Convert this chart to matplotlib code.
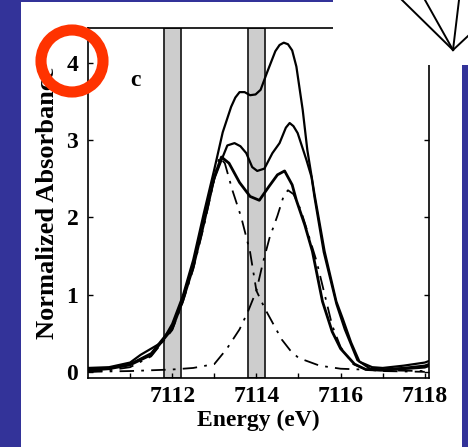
import matplotlib
matplotlib.use("Agg")
import matplotlib.pyplot as plt
from matplotlib.patches import Rectangle, Ellipse
from matplotlib.lines import Line2D

# top solid curve
e1 = [7110.0, 7110.5, 7111.0, 7111.25, 7111.5, 7111.75, 7112.0, 7112.25, 7112.5, 7112.75,
      7113.0, 7113.2, 7113.4, 7113.5, 7113.6, 7113.72, 7113.85, 7113.98, 7114.1, 7114.25,
      7114.45, 7114.55, 7114.65, 7114.75, 7114.85, 7114.95, 7115.1, 7115.21, 7115.38, 7115.62,
      7115.9, 7116.05, 7116.25, 7116.45, 7116.75, 7117.0, 7117.5, 7118.0, 7118.1]
a1 = [0.05, 0.06, 0.12, 0.22, 0.3, 0.38, 0.62, 0.98, 1.45, 2.05,
      2.62, 3.1, 3.43, 3.55, 3.62, 3.62, 3.58, 3.59, 3.65, 3.87,
      4.15, 4.23, 4.26, 4.24, 4.16, 3.95, 3.39, 2.87, 2.3, 1.56,
      0.91, 0.69, 0.38, 0.13, 0.06, 0.05, 0.08, 0.12, 0.14]

# second solid curve
e2 = [7110.0, 7110.5, 7111.0, 7111.5, 7112.0, 7112.25, 7112.5, 7112.75, 7113.0, 7113.17,
      7113.31, 7113.48, 7113.62, 7113.76, 7113.9, 7114.02, 7114.19, 7114.38, 7114.55, 7114.7,
      7114.79, 7114.88, 7114.98, 7115.19, 7115.31, 7115.38, 7115.6, 7115.9, 7116.1, 7116.4,
      7116.7, 7117.0, 7117.5, 7118.0, 7118.1]
a2 = [0.03, 0.05, 0.1, 0.24, 0.58, 0.95, 1.4, 1.98, 2.5, 2.74,
      2.93, 2.96, 2.92, 2.83, 2.65, 2.6, 2.63, 2.83, 2.96, 3.16,
      3.22, 3.18, 3.09, 2.74, 2.52, 2.26, 1.55, 0.88, 0.55, 0.15,
      0.04, 0.03, 0.05, 0.08, 0.1]

# measured spectrum
e3 = [7110.0, 7110.5, 7111.0, 7111.5, 7112.0, 7112.25, 7112.5, 7112.75, 7113.0, 7113.17,
      7113.35, 7113.6, 7113.85, 7114.07, 7114.3, 7114.5, 7114.67, 7114.85, 7114.95, 7115.15,
      7115.33, 7115.57, 7115.8, 7116.0, 7116.33, 7116.6, 7117.0, 7117.5, 7118.0, 7118.1]
a3 = [0.02, 0.04, 0.09, 0.22, 0.56, 0.92, 1.36, 1.92, 2.52, 2.78,
      2.7, 2.45, 2.27, 2.22, 2.4, 2.55, 2.6, 2.42, 2.22, 1.9,
      1.56, 0.91, 0.52, 0.3, 0.1, 0.03, 0.02, 0.04, 0.06, 0.08]

# fitted components
ec1 = [7110.0, 7110.5, 7111.0, 7111.5, 7112.0, 7112.25, 7112.5, 7112.75, 7113.0, 7113.12,
       7113.25, 7113.43, 7113.64, 7113.85, 7114.0, 7114.2, 7114.4, 7114.6, 7114.8, 7115.0,
       7115.5, 7116.0, 7117.0, 7118.0]
ac1 = [0.0, 0.02, 0.06, 0.2, 0.54, 0.9, 1.33, 1.88, 2.5, 2.78,
       2.7, 2.35, 2.0, 1.55, 1.05, 0.82, 0.62, 0.42, 0.28, 0.18,
       0.08, 0.04, 0.02, 0.01]
ec2 = [7110.0, 7111.0, 7112.0, 7112.5, 7113.0, 7113.3, 7113.6, 7113.8, 7114.0, 7114.15,
       7114.31, 7114.5, 7114.65, 7114.75, 7114.88, 7115.05, 7115.25, 7115.43, 7115.6, 7115.8,
       7116.0, 7116.3, 7116.6, 7117.0, 7118.0]
ac2 = [0.0, 0.01, 0.03, 0.05, 0.1, 0.3, 0.55, 0.78, 1.05, 1.4,
       1.73, 2.02, 2.28, 2.35, 2.3, 2.1, 1.75, 1.43, 1.05, 0.6,
       0.32, 0.1, 0.03, 0.01, 0.0]

bands = [7112.0, 7114.0]
band_width = 0.4
xtick_major = [7112, 7114, 7116, 7118]
xtick_labels = ["7112", "7114", "7116", "7118"]
xtick_minor = [7111, 7113, 7115, 7117]
ytick_vals = [0, 1, 2, 3, 4]
ytick_labels = ["0", "1", "2", "3", "4"]

W, H = 468, 447
BLUE = "#333399"
font = dict(family="Liberation Serif", weight="bold")


def fx(px):
    return px / W


def fy(py):
    return 1 - py / H


fig = plt.figure(figsize=(W / 100, H / 100), dpi=100, facecolor=BLUE)

# white slide panel
fig.add_artist(Rectangle((fx(21), 0), fx(462) - fx(21), fy(2), transform=fig.transFigure,
                         facecolor="white", edgecolor="none", zorder=-5))

ax = fig.add_axes([fx(88), fy(378), fx(429) - fx(88), fy(28) - fy(378)])
ax.set_facecolor("none")

for c in bands:
    ax.axvspan(c - band_width / 2, c + band_width / 2, facecolor="#cdcdcd",
               edgecolor="#222222", lw=1.3, zorder=1)

ax.plot(e1, a1, color="black", lw=1.6, zorder=3)
ax.plot(e2, a2, color="black", lw=1.6, zorder=3)
ax.plot(e3, a3, color="black", lw=2.0, zorder=3)
ax.plot(ec1, ac1, color="black", lw=1.3, dashes=(8, 4, 1.5, 4), zorder=3)
ax.plot(ec2, ac2, color="black", lw=1.3, dashes=(8, 4, 1.5, 4), zorder=3)

ax.set_xlim(7110, 7118.1)
ax.set_ylim(-0.08, 4.45)
ax.set_xticks(xtick_major)
ax.set_xticklabels(xtick_labels, **font)
ax.set_xticks(xtick_minor, minor=True)
ax.set_yticks(ytick_vals)
ax.set_yticklabels(ytick_labels, **font)
ax.tick_params(axis="both", which="both", direction="in", length=3.5, width=1,
               labelsize=17, right=True, top=False)
ax.tick_params(axis="x", pad=6)
ax.tick_params(axis="y", pad=7)
for s in ax.spines.values():
    s.set_linewidth(1.2)

ax.set_xlabel("Energy (eV)", fontsize=17, labelpad=2, **font)
ax.set_ylabel("Normalized Absorbance", fontsize=19, labelpad=5, **font)
ax.text(0.138, 0.851, "c", transform=ax.transAxes, fontsize=17, ha="center",
        va="center", **font)

# white patch over the top right corner with the structure sketch
fig.add_artist(Rectangle((fx(333), fy(65)), 1 - fx(333), 1 - fy(65), transform=fig.transFigure,
                         facecolor="white", edgecolor="none", zorder=5))
apex = (453, 50)
for sx, sy in [(402, 0), (425, 0), (459, 0), (468, 36)]:
    fig.add_artist(Line2D([fx(sx), fx(apex[0])], [fy(sy), fy(apex[1])],
                          transform=fig.transFigure, color="black", lw=1.4, zorder=6))

# red highlight ring
fig.add_artist(Ellipse((fx(72), fy(61)), 2 * 31 / W, 2 * 31 / H, transform=fig.transFigure,
                       facecolor="none", edgecolor="#ff3300", lw=8, zorder=10))

fig.savefig("out.png", dpi=100, facecolor=BLUE)
